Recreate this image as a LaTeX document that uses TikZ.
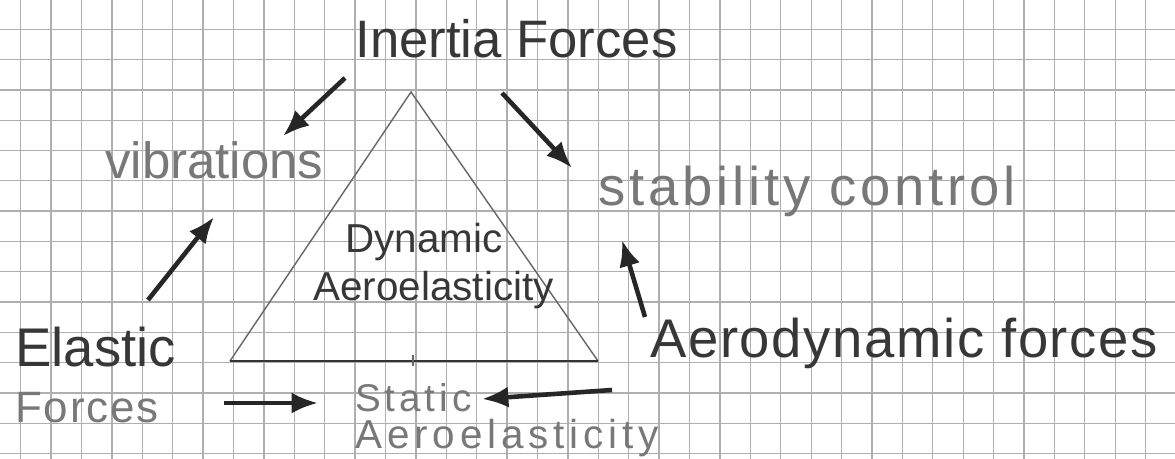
\documentclass[tikz,border=0pt]{standalone}
\usepackage{fontspec}
\setmainfont{Liberation Sans}
\usepackage{xcolor}
\usetikzlibrary{arrows.meta,positioning}
\definecolor{pencil}{RGB}{55,55,55}
\definecolor{softink}{RGB}{120,120,120}
\definecolor{gridgray}{RGB}{175,175,175}

\begin{document}
\begin{tikzpicture}[
  x=0.02cm, y=-0.02cm,
  >=Latex,
  every node/.style={inner sep=0pt, anchor=base west},
  hand/.style={text=pencil},
  faint/.style={text=softink},
  gridline/.style={draw=gridgray, line width=0.7pt},
  edge/.style={draw=black!60, line width=0.8pt},
  push/.style={-{Latex[length=15pt,width=12pt]}, line width=2.6pt, draw=black!85}
]
\useasboundingbox[fill=white] (0,0) rectangle (1175,459);
% squared paper
\foreach \i in {0,...,38}
  \draw[gridline] (20.7+30.4*\i,0) -- (20.7+30.4*\i,459);
\foreach \j in {0,...,14}
  \draw[gridline] (0,29.3+30.3*\j) -- (1175,29.3+30.3*\j);

% the triangle
\coordinate (apex) at (411,92);
\coordinate (left) at (230,361);
\coordinate (right) at (598,361);
\draw[edge] (left) -- (apex) -- (right);
\draw[edge, draw=black!80, line width=1.1pt] (left) -- (right);
\draw[edge] (413,355) -- (413,366);

% labels
\node[hand, font=\fontsize{30}{34}\selectfont] (inertia) at (355,58) {Inertia Forces};
\node[faint, font=\fontsize{29}{34}\selectfont] (vib) at (105,178) {vibrations};
\node[faint, font=\fontsize{31}{36}\selectfont\addfontfeature{LetterSpace=7}] (stab) at (598,205) {stability control};
\node[hand, font=\fontsize{23}{28}\selectfont] (dyn) at (345,252) {Dynamic};
\node[hand, font=\fontsize{23}{28}\selectfont] (dynae) at (313,300) {Aeroelasticity};
\node[hand, font=\fontsize{31}{36}\selectfont] (elastic) at (15,366) {Elastic};
\node[faint, font=\fontsize{25}{30}\selectfont\addfontfeature{LetterSpace=4}] (eforces) at (15,422) {Forces};
\node[hand, font=\fontsize{31}{36}\selectfont\addfontfeature{LetterSpace=3}] (aero) at (650,357) {Aerodynamic forces};
\node[faint, font=\fontsize{22}{26}\selectfont\addfontfeature{LetterSpace=10}] (stat) at (355,411) {Static};
\node[faint, font=\fontsize{23}{28}\selectfont\addfontfeature{LetterSpace=12}] (statae) at (355,448) {Aeroelasticity};

% arrow ends
\coordinate (a1) at (345,78);  \coordinate (b1) at (283,136);
\coordinate (a2) at (502,93);  \coordinate (b2) at (572,168);
\coordinate (a3) at (148,300); \coordinate (b3) at (214,217);
\coordinate (a4) at (645,317); \coordinate (b4) at (622,240);
\coordinate (a5) at (224,403); \coordinate (b5) at (318,403);
\coordinate (a6) at (612,390); \coordinate (b6) at (482,399);

\draw[push] (a1) -- (b1);
\draw[push] (a2) -- (b2);
\draw[push] (a3) -- (b3);
\draw[push] (a4) -- (b4);
\draw[push] (a5) -- (b5);
\draw[push] (a6) -- (b6);
\end{tikzpicture}
\end{document}
